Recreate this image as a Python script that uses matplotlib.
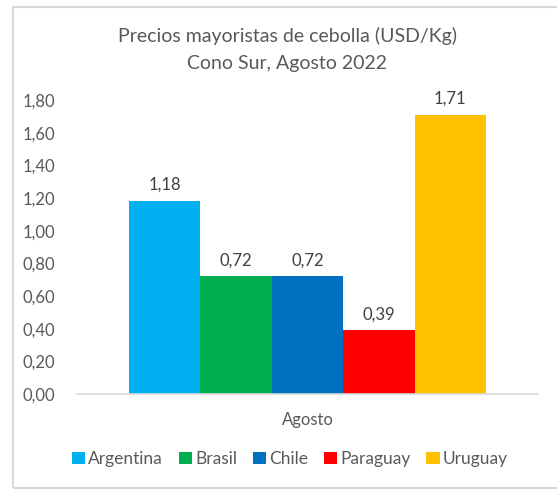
import matplotlib
matplotlib.use("Agg")
from matplotlib import pyplot as plt
from matplotlib.patches import Rectangle
import numpy as np

plt.rcParams['font.family'] = ['Lato', 'DejaVu Sans']

paises = ['Argentina', 'Brasil', 'Chile', 'Paraguay', 'Uruguay']
precios = [1.18, 0.72, 0.72, 0.39, 1.71]
colores = ['#00B0F0', '#00B050', '#0070C0', '#FF0000', '#FFC000']
yticks = [0.0, 0.2, 0.4, 0.6, 0.8, 1.0, 1.2, 1.4, 1.6, 1.8]
categoria = 'Agosto'

W, H = 557, 491
fig = plt.figure(figsize=(W / 100, H / 100), dpi=100)
# chart border (right edge runs past the image)
fig.patches.append(Rectangle((13 / W, (H - 488) / H), (W + 10 - 13) / W, (488 - 7) / H,
                             transform=fig.transFigure, fill=False,
                             edgecolor='#D9D9D9', linewidth=1.5))

# plot area in pixels: x 77..538, y 100..394
ax = fig.add_axes([77 / W, (H - 394) / H, (538 - 77) / W, (394 - 100) / H])
gris = '#595959'

ancho = 71.4 / 461
n = len(paises)
x0 = 0.5 - ancho * n / 2
for i, (p, v, c) in enumerate(zip(paises, precios, colores)):
    xc = x0 + ancho * (i + 0.5)
    ax.bar(xc, v, width=ancho, color=c, label=p)
    ax.text(xc, v + 0.05, ('%.2f' % v).replace('.', ','), ha='center',
            va='bottom', fontsize=12, color='#404040')

ax.set_xlim(0, 1)
ax.set_ylim(0, 1.8)
ax.set_yticks(yticks)
ax.set_yticklabels([('%.2f' % t).replace('.', ',') for t in yticks],
                   fontsize=12, color=gris)
ax.set_xticks([0.5])
ax.set_xticklabels([categoria], fontsize=12, color=gris)
ax.tick_params(axis='both', length=0)
ax.tick_params(axis='y', pad=16)
ax.tick_params(axis='x', pad=13)
for s in ['top', 'right', 'left']:
    ax.spines[s].set_visible(False)
ax.spines['bottom'].set_color('#D9D9D9')
ax.spines['bottom'].set_linewidth(1.2)

fig.text(287 / W, 1 - 36 / H, 'Precios mayoristas de cebolla (USD/Kg)',
         ha='center', va='center', fontsize=14, color=gris)
fig.text(287 / W, 1 - 63 / H, 'Cono Sur, Agosto 2022',
         ha='center', va='center', fontsize=14, color=gris)

handles, labels = ax.get_legend_handles_labels()
fig.legend(handles, labels, loc='center', bbox_to_anchor=(290 / W, 1 - 459 / H),
           ncol=5, frameon=False, fontsize=12.5, handlelength=0.75,
           handleheight=0.75, handletextpad=0.2, columnspacing=0.9,
           labelcolor=gris)

fig.savefig('out.png', dpi=100)
